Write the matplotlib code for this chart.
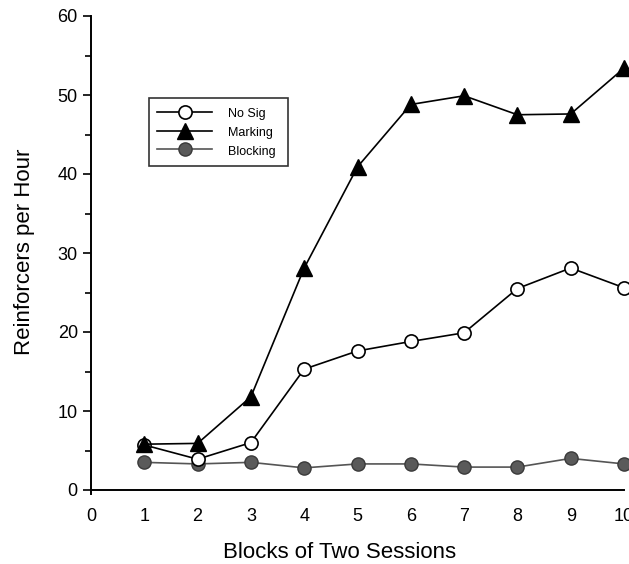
import matplotlib
matplotlib.use("Agg")
import matplotlib.pyplot as plt
from matplotlib.ticker import MultipleLocator

plt.rcParams['font.family'] = ['Liberation Sans', 'DejaVu Sans']

blocks = [1, 2, 3, 4, 5, 6, 7, 8, 9, 10]
no_sig = [5.7, 3.9, 6.0, 15.3, 17.6, 18.8, 19.9, 25.5, 28.1, 25.6]
marking = [5.8, 5.9, 11.8, 28.1, 40.9, 48.8, 49.9, 47.5, 47.6, 53.4]
blocking = [3.5, 3.3, 3.5, 2.8, 3.3, 3.3, 2.9, 2.9, 4.0, 3.3]
x_ticks = list(range(0, 11))
y_ticks = [0, 10, 20, 30, 40, 50, 60]


def main():
    fig = plt.figure(figsize=(6.29, 5.64), dpi=100)
    # axes box in pixels: x 91..624, y 16..490
    ax = fig.add_axes([91 / 629, 74 / 564, 533 / 629, 474 / 564])

    ax.plot(blocks, no_sig, color="black", lw=1.2, marker="o", ms=9.5,
            mfc="white", mec="black", mew=1.2, label="No Sig", zorder=3,
            clip_on=False)
    ax.plot(blocks, marking, color="black", lw=1.2, marker="^", ms=11,
            mfc="black", mec="black", label="Marking", zorder=4,
            clip_on=False)
    ax.plot(blocks, blocking, color="#555555", lw=1.2, marker="o", ms=9.5,
            mfc="#5a5a5a", mec="#3a3a3a", label="Blocking", zorder=2,
            clip_on=False)

    ax.set_xlim(0, 10)
    ax.set_ylim(0, 60)
    ax.set_xticks(x_ticks)
    ax.set_yticks(y_ticks)
    ax.yaxis.set_minor_locator(MultipleLocator(5))
    ax.tick_params(axis="x", length=0, pad=13, labelsize=13)
    ax.tick_params(axis="y", which="major", length=6, width=1.2, labelsize=13)
    ax.tick_params(axis="y", which="minor", length=4, width=1.2)
    ax.spines["top"].set_visible(False)
    ax.spines["right"].set_visible(False)
    ax.spines["left"].set_linewidth(1.4)
    ax.spines["bottom"].set_linewidth(1.4)
    ax.spines["left"].set_bounds(-0.5, 60)

    ax.set_xlabel("Blocks of Two Sessions", fontsize=16)
    ax.xaxis.set_label_coords((340 - 91) / 533, -(553 - 490) / 474)
    ax.xaxis.label.set_va("center")
    ax.set_ylabel("Reinforcers per Hour", fontsize=16)
    ax.yaxis.set_label_coords(-(91 - 25) / 533, (490 - 252) / 474)
    ax.yaxis.label.set_va("center")

    # legend box in pixels: x 149..288, top at 98
    leg_x = (149 - 91) / 533
    leg_top = 1 - (98 - 16) / 474
    leg_w = (288 - 149) / 533
    leg = ax.legend(loc="upper left", mode="expand",
                    bbox_to_anchor=(leg_x, leg_top - 0.1, leg_w, 0.1),
                    borderaxespad=0, fontsize=9, handlelength=4.4,
                    handleheight=1.4, handletextpad=1.3, frameon=True,
                    fancybox=False, edgecolor="black", borderpad=0.65,
                    labelspacing=0.35)
    leg.get_frame().set_linewidth(1.2)

    fig.savefig("out.png", dpi=100)


if __name__ == "__main__":
    main()
